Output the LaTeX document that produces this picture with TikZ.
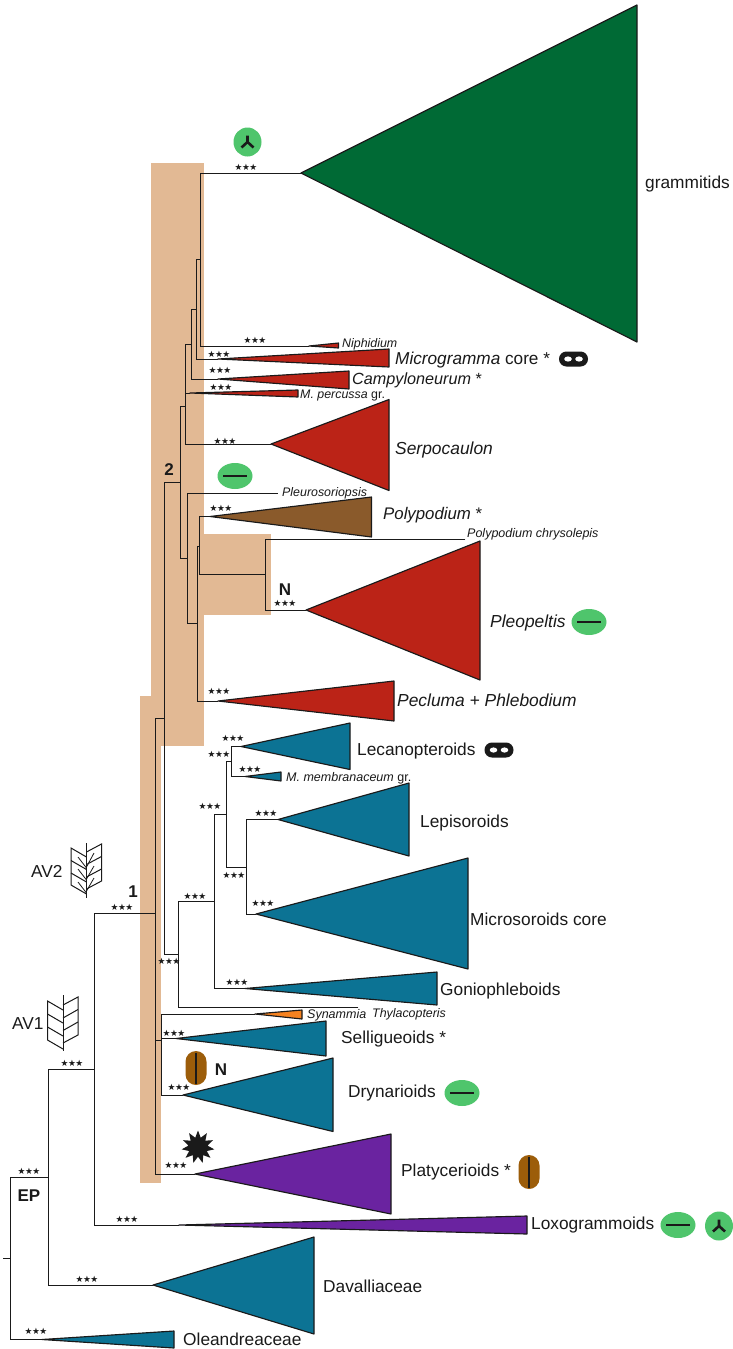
\documentclass[tikz,border=0pt]{standalone}
\usepackage{fontspec}
\setmainfont{Liberation Sans}
\newfontfamily\starfont[LetterSpace=-6]{DejaVu Sans}
\usetikzlibrary{shapes.geometric}
\definecolor{ctan}{HTML}{E2B994}
\definecolor{ink}{HTML}{1A1A1A}
\definecolor{cgreen}{HTML}{006A35}
\definecolor{cred}{HTML}{BB2317}
\definecolor{cbrown}{HTML}{8A5A2B}
\definecolor{cblue}{HTML}{0C7394}
\definecolor{cpurple}{HTML}{6A23A0}
\definecolor{corange}{HTML}{F58220}
\definecolor{lgreen}{HTML}{4FC56C}
\definecolor{pillc}{HTML}{9C5D0A}
\tikzset{
  treeedge/.style={draw=ink,line width=0.95pt,line cap=rect},
  tri/.style={draw=ink,line width=1.15pt,line join=round},
  starlab/.style={inner sep=0pt,text=ink,font=\starfont\fontsize{8.8}{9}\selectfont},
  lab/.style={inner sep=0pt,anchor=base west,text=ink},
  biglab/.style={inner sep=0pt,text=ink,font=\bfseries\fontsize{17}{18}\selectfont},
  frond/.style={draw=ink,line width=1pt,line join=miter},
  glyphline/.style={draw=ink,line width=2.6pt},
}
\newcommand{\clade}[7]{%
  \coordinate (#1) at (#2,#3);
  \draw[tri,fill=#7] (#1) -- (#4,#5) -- (#4,#6) -- cycle;}
\newcommand{\stars}[3]{\node[starlab] (#1) at (#2,#3) {★★★};}
\newcommand{\lab}[5]{\node[lab,font=\fontsize{#4}{#4}\selectfont] (#1) at (#2,#3) {#5};}
\newcommand{\ygly}[3]{%
  \node[ellipse,fill=lgreen,minimum width=28pt,minimum height=29pt,inner sep=0pt] (#1) at (#2,#3) {};
  \draw[glyphline] (#2,#3-6.5) -- (#2,#3) -- (#2-6,#3+5.5);
  \draw[glyphline] (#2,#3) -- (#2+6,#3+5.5);}
\newcommand{\bargly}[3]{%
  \node[ellipse,fill=lgreen,minimum width=35pt,minimum height=26pt,inner sep=0pt] (#1) at (#2,#3) {};
  \draw[glyphline] (#2-12,#3) -- (#2+12,#3);}
\newcommand{\pill}[3]{%
  \node[rectangle,rounded corners=10.5pt,fill=pillc,minimum width=21pt,minimum height=34pt,inner sep=0pt] (#1) at (#2,#3) {};
  \draw[glyphline] (#2,#3-15.5) -- (#2,#3+15.5);}
\newcommand{\loopgly}[3]{%
  \node[rectangle,rounded corners=7.4pt,fill=ink,minimum width=29pt,minimum height=15pt,inner sep=0pt] (#1) at (#2,#3) {};
  \fill[white] (#2-5.5,#3) ellipse [x radius=3.8,y radius=2.6];
  \fill[white] (#2+5.5,#3) ellipse [x radius=3.8,y radius=2.6];}
\begin{document}
\begin{tikzpicture}[x=1pt,y=-1pt]
\useasboundingbox (0,0) rectangle (732,1349);
\fill[white] (0,0) rectangle (732,1349);
% shaded zones
\fill[ctan] (140,696) rectangle (161,1183);
\fill[ctan] (151,163) rectangle (204,746);
\fill[ctan] (204,534) rectangle (271,615);
% clade triangles
\clade{gra}{301}{173}{637}{5}{342}{cgreen}
\clade{nip}{309}{346}{338.5}{343}{348}{cred}
\clade{mcg}{218}{359}{389}{349}{367}{cred}
\clade{cam}{218}{379}{349}{371}{389}{cred}
\clade{per}{190}{393}{298}{390}{397}{cred}
\clade{ser}{271}{444}{389}{399.5}{490.5}{cred}
\clade{pol}{210}{516.5}{371.5}{497}{537}{cbrown}
\clade{pll}{306}{610}{480}{541}{680}{cred}
\clade{pec}{218}{701}{394}{681}{721}{cred}
\clade{lec}{241}{746.5}{350}{723}{769.5}{cblue}
\clade{mem}{245}{776.5}{281}{772}{781}{cblue}
\clade{lep}{278}{819.5}{409}{783}{856}{cblue}
\clade{mic}{256}{914}{468}{858}{969}{cblue}
\clade{gon}{245}{988.5}{437}{972}{1005}{cblue}
\clade{syn}{255}{1014}{302}{1010}{1019}{corange}
\clade{sel}{176}{1038.5}{326}{1021}{1056}{cblue}
\clade{dry}{183}{1095}{333}{1058}{1131.5}{cblue}
\clade{pla}{195}{1174}{391}{1134}{1214}{cpurple}
\clade{lox}{179}{1225}{527}{1216}{1234}{cpurple}
\clade{dav}{153}{1285}{314}{1237}{1334}{cblue}
\clade{ole}{42}{1339.5}{174}{1331}{1348}{cblue}
% tree junctions and free tips
\coordinate (rt) at (3,1258);
\coordinate (r) at (10,1258);
\coordinate (ep) at (48,1177);
\coordinate (av) at (94,1069);
\coordinate (n1) at (155,913);
\coordinate (n1b) at (161,1040);
\coordinate (n2) at (164,718);
\coordinate (nb) at (178,954.5);
\coordinate (nc) at (214,901.5);
\coordinate (nd) at (226.3,814);
\coordinate (ne) at (231,761);
\coordinate (nf) at (246,867);
\coordinate (thy) at (358,1007.5);
\coordinate (n3) at (180,482.5);
\coordinate (n4) at (185.5,406.7);
\coordinate (n5) at (187.7,558);
\coordinate (n6) at (191,344);
\coordinate (n7) at (196,309.5);
\coordinate (n8) at (200,259.5);
\coordinate (n9) at (197,623);
\coordinate (n10) at (199,546);
\coordinate (n11) at (265,574);
\coordinate (plo) at (277.7,493);
\coordinate (chr) at (465,539);
% connectors
\draw[treeedge] (rt) -- (r);
\draw[treeedge] (r) |- (ole);
\draw[treeedge] (r) |- (ep);
\draw[treeedge] (ep) |- (dav);
\draw[treeedge] (ep) |- (av);
\draw[treeedge] (av) |- (lox);
\draw[treeedge] (av) |- (n1);
\draw[treeedge] (n1) |- (pla);
\draw[treeedge] (n1) |- (n1b);
\draw[treeedge] (n1) |- (n2);
\draw[treeedge] (n1b) |- (syn);
\draw[treeedge] (n1b) |- (sel);
\draw[treeedge] (n1b) |- (dry);
\draw[treeedge] (n2) |- (n3);
\draw[treeedge] (n2) |- (nb);
\draw[treeedge] (nb) |- (thy);
\draw[treeedge] (nb) |- (nc);
\draw[treeedge] (nc) |- (gon);
\draw[treeedge] (nc) |- (nd);
\draw[treeedge] (nd) |- (ne);
\draw[treeedge] (nd) |- (nf);
\draw[treeedge] (ne) |- (lec);
\draw[treeedge] (ne) |- (mem);
\draw[treeedge] (nf) |- (lep);
\draw[treeedge] (nf) |- (mic);
\draw[treeedge] (n3) |- (n4);
\draw[treeedge] (n3) |- (n5);
\draw[treeedge] (n4) |- (n6);
\draw[treeedge] (n4) |- (per);
\draw[treeedge] (n4) |- (ser);
\draw[treeedge] (n6) |- (n7);
\draw[treeedge] (n6) |- (cam);
\draw[treeedge] (n7) |- (n8);
\draw[treeedge] (n7) |- (mcg);
\draw[treeedge] (n8) |- (gra);
\draw[treeedge] (n8) |- (nip);
\draw[treeedge] (n5) |- (plo);
\draw[treeedge] (n5) |- (n9);
\draw[treeedge] (n9) |- (n10);
\draw[treeedge] (n9) |- (pec);
\draw[treeedge] (n10) |- (pol);
\draw[treeedge] (n10) |- (n11);
\draw[treeedge] (n11) |- (chr);
\draw[treeedge] (n11) |- (pll);
% support values
\stars{s1}{246}{167}
\stars{s2}{255}{340}
\stars{s3}{219}{354}
\stars{s4}{220}{370}
\stars{s5}{221}{387}
\stars{s6}{225}{441}
\stars{s7}{221}{508}
\stars{s8}{285}{603}
\stars{s9}{219}{691}
\stars{s10}{233}{738}
\stars{s11}{219}{754}
\stars{s12}{250}{769}
\stars{s13}{210}{806}
\stars{s14}{266}{813}
\stars{s15}{234}{875}
\stars{s16}{263}{903}
\stars{s17}{195}{896}
\stars{s18}{169}{961}
\stars{s19}{237}{982}
\stars{s20}{174}{1033}
\stars{s21}{122}{907}
\stars{s22}{72}{1063}
\stars{s23}{29}{1171}
\stars{s24}{127}{1219}
\stars{s25}{87}{1279}
\stars{s26}{36}{1331}
\stars{s27}{179}{1087}
\stars{s28}{176}{1165}
% labels
\lab{l1}{645}{188}{17.3}{grammitids}
\lab{l2}{342}{347}{12.4}{\itshape Niphidium}
\lab{l3}{395}{364}{17.2}{\textit{Microgramma} core *}
\lab{l4}{352}{384}{16.2}{\textit{Campyloneurum} *}
\lab{l5}{300}{398}{12.4}{\textit{M. percussa} gr.}
\lab{l6}{395}{454}{17.4}{\itshape Serpocaulon}
\lab{l7}{282}{496}{12.4}{\itshape Pleurosoriopsis}
\lab{l8}{383}{519}{16.8}{\textit{Polypodium} *}
\lab{l9}{467}{537}{12.5}{\itshape Polypodium chrysolepis}
\lab{l10}{490}{627}{17.4}{\itshape Pleopeltis}
\lab{l11}{397}{706}{17.4}{\itshape Pecluma + Phlebodium}
\lab{l12}{357}{755}{17.3}{Lecanopteroids}
\lab{l13}{286}{781}{12.5}{\textit{M. membranaceum} gr.}
\lab{l14}{420}{827}{17.3}{Lepisoroids}
\lab{l15}{470}{925}{17.3}{Microsoroids core}
\lab{l16}{440}{995}{17.3}{Goniophleboids}
\lab{l17}{307}{1018}{12.5}{\itshape Synammia}
\lab{l18}{372}{1017}{12.4}{\itshape Thylacopteris}
\lab{l19}{341}{1043}{17.3}{Selligueoids *}
\lab{l20}{348}{1097}{17.3}{Drynarioids}
\lab{l21}{401}{1176}{17.3}{Platycerioids *}
\lab{l22}{531}{1229}{17.3}{Loxogrammoids}
\lab{l23}{323}{1292}{17.3}{Davalliaceae}
\lab{l24}{183}{1345}{17.3}{Oleandreaceae}
\lab{l25}{31}{877}{17.3}{AV2}
\lab{l26}{12}{1029}{17.3}{AV1}
\node[biglab] (b1) at (133,892) {1};
\node[biglab] (b2) at (169,470) {2};
\node[biglab] (b3) at (285,590) {N};
\node[biglab] (b4) at (221,1070) {N};
\node[biglab] (b5) at (29,1196) {EP};
% trait symbols
\ygly{g1}{247.5}{142}
\ygly{g2}{719}{1226}
\bargly{g3}{235}{476}
\bargly{g4}{589}{622}
\bargly{g5}{462}{1093}
\bargly{g6}{678}{1225}
\pill{g7}{196}{1068}
\pill{g8}{529}{1172}
\loopgly{g9}{573.5}{359}
\loopgly{g10}{499}{750}
\node[star,star points=11,star point ratio=1.7,fill=ink,minimum size=33pt,inner sep=0pt] (g11) at (198,1147) {};
% fronds
\draw[frond] (86.5,843) -- (86.5,898);
\draw[frond] (86.5,857) -- (71,848) -- (71,885) -- (86.5,894);
\draw[frond] (71,860.5) -- (86.5,869.5);
\draw[frond] (71,873) -- (86.5,882);
\draw[frond] (86.5,852) -- (101.5,844) -- (101.5,881) -- (86.5,889);
\draw[frond] (101.5,856.5) -- (86.5,864.5);
\draw[frond] (101.5,869) -- (86.5,877);
\draw[frond,line width=0.8pt] (78,857) -- (86.5,868) (78,869) -- (86.5,880) (78,882) -- (86.5,893);
\draw[frond,line width=0.8pt] (94,853) -- (86.5,867) (94,866) -- (86.5,879) (94,878) -- (86.5,891);
\draw[frond] (63,995) -- (63,1051);
\draw[frond] (63,1010) -- (47.5,1001) -- (47.5,1040) -- (63,1049);
\draw[frond] (47.5,1014) -- (63,1023);
\draw[frond] (47.5,1027) -- (63,1036);
\draw[frond] (63,1005) -- (78,997) -- (78,1035) -- (63,1043);
\draw[frond] (78,1009.5) -- (63,1018);
\draw[frond] (78,1022) -- (63,1030.5);
\end{tikzpicture}
\end{document}
